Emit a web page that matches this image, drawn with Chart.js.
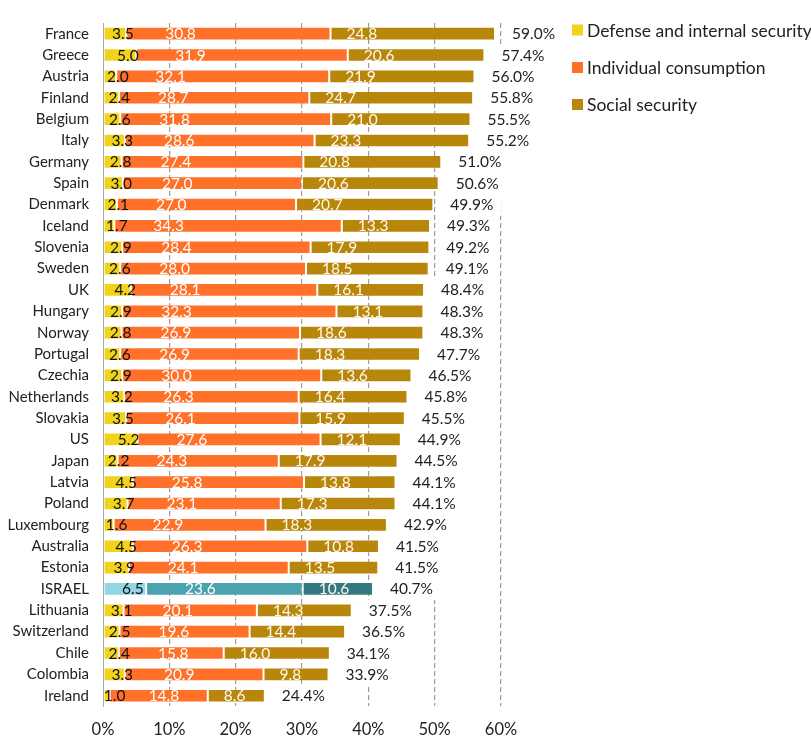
<!DOCTYPE html>
<html>
<head>
<meta charset="utf-8">
<script src="https://cdn.jsdelivr.net/npm/chart.js@4.4.1/dist/chart.umd.min.js"></script>
<style>
  html, body { margin: 0; padding: 0; background: #ffffff; }
  #wrap { position: relative; width: 811px; height: 741px; }
</style>
</head>
<body>
<div id="wrap"><canvas id="chart" width="811" height="741"></canvas></div>
<script>
// Government spending by function, % of GDP
const countries = ['France','Greece','Austria','Finland','Belgium','Italy','Germany','Spain','Denmark','Iceland','Slovenia','Sweden','UK','Hungary','Norway','Portugal','Czechia','Netherlands','Slovakia','US','Japan','Latvia','Poland','Luxembourg','Australia','Estonia','ISRAEL','Lithuania','Switzerland','Chile','Colombia','Ireland'];
const defense = [3.5,5.0,2.0,2.4,2.6,3.3,2.8,3.0,2.1,1.7,2.9,2.6,4.2,2.9,2.8,2.6,2.9,3.2,3.5,5.2,2.2,4.5,3.7,1.6,4.5,3.9,6.5,3.1,2.5,2.4,3.3,1.0];
const individual = [30.8,31.9,32.1,28.7,31.8,28.6,27.4,27.0,27.0,34.3,28.4,28.0,28.1,32.3,26.9,26.9,30.0,26.3,26.1,27.6,24.3,25.8,23.1,22.9,26.3,24.1,23.6,20.1,19.6,15.8,20.9,14.8];
const social = [24.8,20.6,21.9,24.7,21.0,23.3,20.8,20.6,20.7,13.3,17.9,18.5,16.1,13.1,18.6,18.3,13.6,16.4,15.9,12.1,17.9,13.8,17.3,18.3,10.8,13.5,10.6,14.3,14.4,16.0,9.8,8.6];
const totals = [59.0,57.4,56.0,55.8,55.5,55.2,51.0,50.6,49.9,49.3,49.2,49.1,48.4,48.3,48.3,47.7,46.5,45.8,45.5,44.9,44.5,44.1,44.1,42.9,41.5,41.5,40.7,37.5,36.5,34.1,33.9,24.4];
const seriesNames = ['Defense and internal security','Individual consumption','Social security'];
const xTicks = [0,10,20,30,40,50,60];

const highlight = 'ISRAEL';
const baseColors = ['#F2D31B', '#FF7128', '#B8860B'];
const highlightColors = ['#93D5E5', '#4AA3AF', '#33797F'];

function colorsFor(k) {
  return countries.map(c => c === highlight ? highlightColors[k] : baseColors[k]);
}

const FONT = 'Lato, "Open Sans", sans-serif';

// Segment values and totals written on the bars
const barLabels = {
  id: 'barLabels',
  afterDatasetsDraw(chart) {
    const ctx = chart.ctx;
    const yScale = chart.scales.y;
    const pitch = Math.abs(yScale.getPixelForValue(1) - yScale.getPixelForValue(0));
    const metas = [0, 1, 2].map(k => chart.getDatasetMeta(k));
    const values = [defense, individual, social];
    ctx.save();
    ctx.font = '15.5px ' + FONT;
    ctx.textBaseline = 'middle';
    countries.forEach((c, i) => {
      const segs = metas.map(m => m.data[i]);
      const y = segs[0].y + 0.5;
      // defense: just past the middle of the segment
      ctx.fillStyle = '#111111';
      ctx.textAlign = 'center';
      ctx.fillText(values[0][i].toFixed(1), (segs[0].base + segs[0].x) / 2 + 8, y);
      // individual consumption and social security: white, near the start of the segment
      ctx.fillStyle = '#FFFFFF';
      ctx.textAlign = 'left';
      ctx.fillText(values[1][i].toFixed(1), segs[1].base + 39, y);
      ctx.fillStyle = '#FFF8EC';
      ctx.fillText(values[2][i].toFixed(1), segs[2].base + 16, y);
      // total at the end of the bar, on a white label box
      const txt = totals[i].toFixed(1) + '%';
      const tx = segs[2].x + 17;
      const w = ctx.measureText(txt).width;
      ctx.fillStyle = '#FFFFFF';
      ctx.fillRect(tx - 8, y - 0.5 - pitch / 2, w + 16, pitch + 0.5);
      ctx.fillStyle = '#222222';
      ctx.fillText(txt, tx, y);
    });
    ctx.restore();
  },
  afterDraw(chart) {
    // legend on the right
    const ctx = chart.ctx;
    ctx.save();
    ctx.font = '17.5px ' + FONT;
    ctx.textBaseline = 'middle';
    ctx.textAlign = 'left';
    const ys = [30, 67.5, 104.5];
    seriesNames.forEach((name, k) => {
      ctx.fillStyle = baseColors[k];
      ctx.fillRect(572, ys[k] - 5.5, 11, 11);
      ctx.fillStyle = '#222222';
      ctx.fillText(name, 587, ys[k] + 1);
    });
    ctx.restore();
  }
};

const datasets = [defense, individual, social].map((vals, k) => ({
  label: seriesNames[k],
  data: vals,
  backgroundColor: colorsFor(k),
  borderColor: 'rgba(255,255,255,0.22)',
  borderWidth: 1,
  borderSkipped: false,
  barPercentage: 0.64,
  categoryPercentage: 1.0
}));

new Chart(document.getElementById('chart'), {
  type: 'bar',
  data: { labels: countries, datasets },
  plugins: [barLabels],
  options: {
    indexAxis: 'y',
    responsive: false,
    animation: false,
    layout: { padding: { top: 6.6, right: 310, bottom: 0, left: 0 } },
    plugins: {
      legend: { display: false },
      tooltip: { enabled: false }
    },
    scales: {
      x: {
        stacked: true,
        min: 0,
        max: 60,
        afterBuildTicks(scale) { scale.ticks = xTicks.map(v => ({ value: v })); },
        afterFit(scale) { scale.height = 34.6; },
        grid: {
          drawTicks: false,
          lineWidth: 1.2,
          color: c => (c.tick && c.tick.value === 0) ? 'rgba(0,0,0,0)' : '#9C9C9C'
        },
        border: { display: false, dash: [5, 3] },
        ticks: {
          padding: 13,
          color: '#222222',
          font: { family: FONT, size: 16.5 },
          callback: v => v + '%'
        }
      },
      y: {
        stacked: true,
        afterFit(scale) { scale.width = 103; },
        grid: { display: false, drawTicks: false },
        border: { display: true, color: '#A6A6A6', width: 1 },
        ticks: {
          padding: 14,
          color: '#222222',
          font: { family: FONT, size: 15 }
        }
      }
    }
  }
});
</script>
</body>
</html>
